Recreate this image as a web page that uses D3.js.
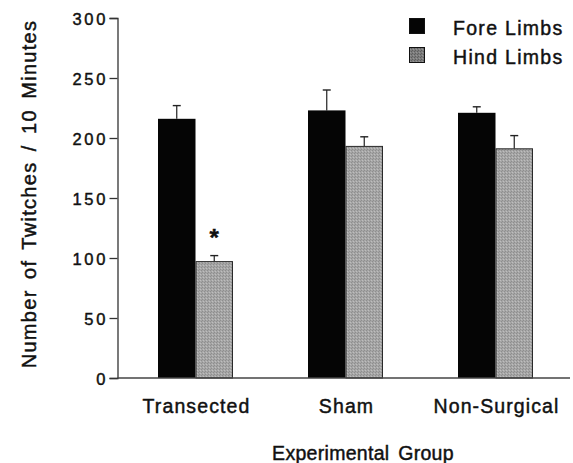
<!DOCTYPE html>
<html>
<head>
<meta charset="utf-8">
<script src="https://cdn.jsdelivr.net/npm/d3@7"></script>
<style>
  html, body { margin: 0; padding: 0; background: #fff; }
  svg { display: block; }
  text { font-family: "Liberation Sans", Arial, Helvetica, sans-serif; fill: #111; stroke: #111; stroke-width: 0.45px; }
</style>
</head>
<body>
<svg id="chart" width="573" height="463"></svg>
<script>
// Twitch counts per 10 minutes, by experimental group and limb pair
const groups = ["Transected", "Sham", "Non-Surgical"];
const seriesNames = ["Fore Limbs", "Hind Limbs"];
const foreLimbs = [216, 223, 221];
const hindLimbs = [97, 193, 191];
const foreErr = [11, 17, 5];
const hindErr = [5, 8, 11];
const yTicks = [0, 50, 100, 150, 200, 250, 300];
const significant = [true, false, false]; // hind-limb difference marked with *

const svg = d3.select("#chart");
const defs = svg.append("defs");

// stippled grey fill for the hind-limb bars
function stipple(id, base, dark, light) {
  const p = defs.append("pattern")
    .attr("id", id).attr("patternUnits", "userSpaceOnUse")
    .attr("width", 3).attr("height", 3);
  p.append("rect").attr("width", 3).attr("height", 3).attr("fill", base);
  p.append("rect").attr("x", 0).attr("y", 0).attr("width", 1).attr("height", 1).attr("fill", dark);
  p.append("rect").attr("x", 2).attr("y", 1).attr("width", 1).attr("height", 1).attr("fill", light);
  p.append("rect").attr("x", 1).attr("y", 2).attr("width", 1).attr("height", 1).attr("fill", dark);
}
stipple("hindFill", "#a6a6a6", "#8e8e8e", "#bebebe");
stipple("hindKey", "#7c7c7c", "#5e5e5e", "#959595");

const y = d3.scaleLinear().domain([0, 300]).range([378, 18]);
const x0 = d3.scaleBand().domain(groups).range([120.5, 570.5])
  .paddingInner(0.5).paddingOuter(0.25);
const x1 = d3.scaleBand().domain(seriesNames).range([0, x0.bandwidth()]);

const rows = groups.map((g, i) => ({
  group: g,
  vals: [
    { s: seriesNames[0], v: foreLimbs[i], e: foreErr[i] },
    { s: seriesNames[1], v: hindLimbs[i], e: hindErr[i] }
  ],
  sig: significant[i]
}));

// error bars (upper whisker only) drawn beneath bars
const gErr = svg.append("g");
rows.forEach(r => {
  r.vals.forEach(d => {
    const cx = x0(r.group) + x1(d.s) + x1.bandwidth() / 2;
    gErr.append("line")
      .attr("x1", cx).attr("x2", cx)
      .attr("y1", y(d.v)).attr("y2", y(d.v + d.e))
      .attr("stroke", "#222").attr("stroke-width", 1.2);
    gErr.append("line")
      .attr("x1", cx - 4).attr("x2", cx + 4)
      .attr("y1", y(d.v + d.e)).attr("y2", y(d.v + d.e))
      .attr("stroke", "#222").attr("stroke-width", 1.4);
  });
});

// bars
const gBars = svg.append("g");
rows.forEach(r => {
  r.vals.forEach((d, j) => {
    gBars.append("rect")
      .attr("x", x0(r.group) + x1(d.s) + (j === 1 ? 0.5 : 0))
      .attr("y", y(d.v))
      .attr("width", x1.bandwidth() - (j === 1 ? 1 : 0))
      .attr("height", y(0) - y(d.v))
      .attr("fill", j === 0 ? "#050505" : "url(#hindFill)")
      .attr("stroke", j === 0 ? "none" : "#2a2a2a")
      .attr("stroke-width", j === 0 ? 0 : 1);
  });
  if (r.sig) {
    const d = r.vals[1];
    const cx = x0(r.group) + x1(d.s) + x1.bandwidth() / 2;
    svg.append("text")
      .attr("x", cx).attr("y", y(d.v + d.e) - 10)
      .attr("text-anchor", "middle")
      .attr("font-size", 24).attr("font-weight", "bold")
      .text("*");
  }
});

// y axis
const yAxis = d3.axisLeft(y).tickValues(yTicks).tickSize(8).tickPadding(4)
  .tickFormat(d3.format("d"));
const gy = svg.append("g").attr("transform", "translate(117.5,0)").call(yAxis);
gy.select(".domain").attr("stroke", "#333").attr("stroke-width", 1.3);
gy.selectAll(".tick line").attr("stroke", "#333").attr("stroke-width", 1.3);
gy.selectAll(".tick text")
  .attr("font-size", 16.5).attr("letter-spacing", 2.8)
  .attr("dx", 2.8).attr("dy", "0.38em")
  .style("font-family", "'Liberation Sans', Arial, sans-serif")
  .attr("fill", "#111").attr("stroke", "#111").attr("stroke-width", 0.45);

// x axis baseline
svg.append("line")
  .attr("x1", 117.5).attr("x2", 570).attr("y1", y(0)).attr("y2", y(0))
  .attr("stroke", "#444").attr("stroke-width", 1.3);

// category labels
svg.append("g").selectAll("text").data(groups).join("text")
  .attr("x", g => x0(g) + x0.bandwidth() / 2 + 1)
  .attr("y", 412.5)
  .attr("text-anchor", "middle")
  .attr("font-size", 19.5).attr("letter-spacing", 1.1)
  .text(g => g);

// axis titles
svg.append("text")
  .attr("x", 363).attr("y", 460)
  .attr("text-anchor", "middle")
  .attr("font-size", 19.5).attr("letter-spacing", 0.3).attr("word-spacing", 3)
  .text("Experimental Group");

svg.append("text")
  .attr("transform", "translate(36,194) rotate(-90)")
  .attr("text-anchor", "middle")
  .attr("font-size", 20).attr("letter-spacing", 1.3).attr("word-spacing", 3.5)
  .text("Number of Twitches / 10 Minutes");

// legend
const legend = svg.append("g");
seriesNames.forEach((s, i) => {
  const ly = 18 + i * 29;
  legend.append("rect")
    .attr("x", 409.5).attr("y", ly + 0.5).attr("width", 15).attr("height", 15)
    .attr("fill", i === 0 ? "#050505" : "url(#hindKey)")
    .attr("stroke", "#111").attr("stroke-width", 1);
  legend.append("text")
    .attr("x", 453).attr("y", ly + 16.5)
    .attr("font-size", 19.5).attr("letter-spacing", 1.3)
    .text(s);
});
</script>
</body>
</html>
